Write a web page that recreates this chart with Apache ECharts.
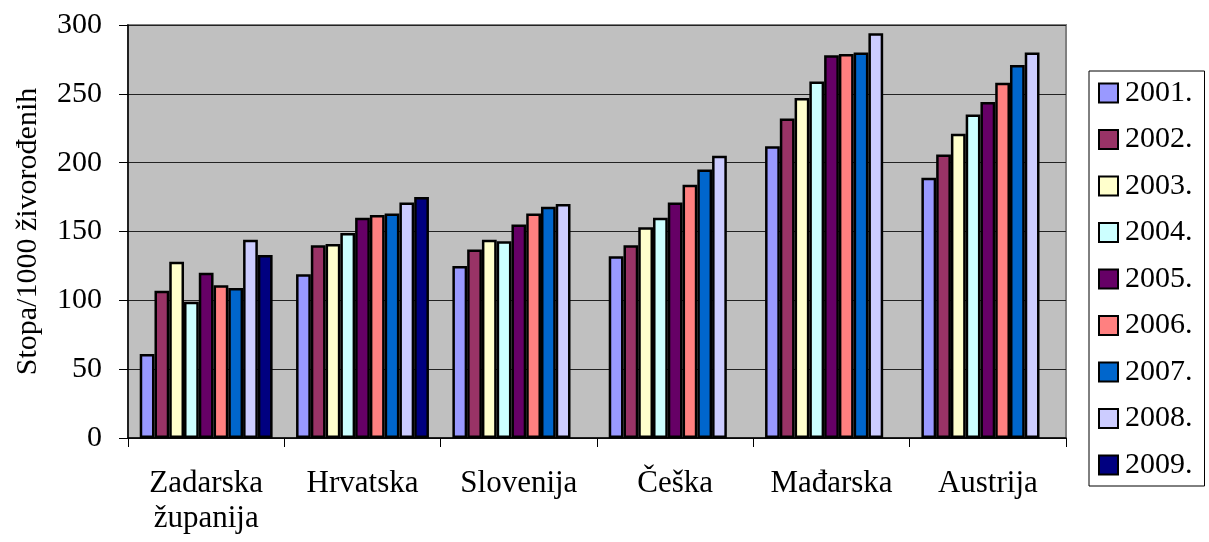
<!DOCTYPE html>
<html>
<head>
<meta charset="utf-8">
<script src="https://cdn.jsdelivr.net/npm/echarts@6/dist/echarts.min.js"></script>
<style>
  html, body { margin: 0; padding: 0; background: #ffffff; }
  #chart { width: 1209px; height: 542px; }
</style>
</head>
<body>
<div id="chart"></div>
<script>
// Countries / regions on the category axis
const categories = ['Zadarska\nžupanija', 'Hrvatska', 'Slovenija', 'Češka', 'Mađarska', 'Austrija'];

// Rate per 1000 live births, one array per year (null = no data)
const y2001 = [61, 119, 125, 132, 212, 189];
const y2002 = [107, 140, 137, 140, 232, 206];
const y2003 = [128, 141, 144, 153, 247, 221];
const y2004 = [99, 149, 143, 160, 259, 235];
const y2005 = [120, 160, 155, 171, 278, 244];
const y2006 = [111, 162, 163, 184, 279, 258];
const y2007 = [109, 163, 168, 195, 280, 271];
const y2008 = [144, 171, 170, 205, 294, 280];
const y2009 = [133, 175, null, null, null, null];

const yearNames = ['2001.', '2002.', '2003.', '2004.', '2005.', '2006.', '2007.', '2008.', '2009.'];
const yearValues = [y2001, y2002, y2003, y2004, y2005, y2006, y2007, y2008, y2009];
const yearColors = ['#9999FF', '#993366', '#FFFFCC', '#CCFFFF', '#660066', '#FF8080', '#0066CC', '#CCCCFF', '#000080'];

const yTicks = { min: 0, max: 300, interval: 50 };

const FONT = '"Liberation Serif", "Times New Roman", serif';

const series = yearNames.map((name, i) => ({
  name: name,
  type: 'bar',
  data: yearValues[i],
  barGap: '0%',
  barCategoryGap: '15%',
  itemStyle: { color: yearColors[i], borderColor: '#000000', borderWidth: 2.5 },
  emphasis: { disabled: true }
}));

const chart = echarts.init(document.getElementById('chart'), null, { renderer: 'canvas' });
chart.setOption({
  animation: false,
  textStyle: { fontFamily: FONT, color: '#000' },
  grid: {
    left: 128, right: 143, top: 25, bottom: 104,
    show: true,
    backgroundColor: '#c0c0c0',
    borderColor: '#808080',
    borderWidth: 2
  },
  legend: {
    orient: 'vertical',
    left: 1089,
    top: 71,
    padding: [7, 12, 6, 9],
    itemWidth: 19,
    itemHeight: 19,
    itemGap: 16.5,
    borderColor: '#000',
    borderWidth: 1,
    backgroundColor: '#fff',
    icon: 'rect',
    textStyle: { fontFamily: FONT, fontSize: 30, color: '#000', lineHeight: 30, padding: [0, 0, 0, 2] },
    data: yearNames
  },
  xAxis: {
    type: 'category',
    data: categories,
    axisLine: { lineStyle: { color: '#000', width: 1.5 } },
    axisTick: { show: true, length: 9, lineStyle: { color: '#000', width: 1 } },
    axisLabel: { fontFamily: FONT, fontSize: 31, color: '#000', margin: 28, lineHeight: 35, interval: 0 },
    splitLine: { show: false }
  },
  yAxis: {
    type: 'value',
    min: yTicks.min,
    max: yTicks.max,
    interval: yTicks.interval,
    name: 'Stopa/1000 živorođenih',
    nameLocation: 'middle',
    nameGap: 85,
    nameTextStyle: { fontFamily: FONT, fontSize: 30, color: '#000' },
    axisLine: { show: true, lineStyle: { color: '#000', width: 1.5 } },
    axisTick: { show: true, length: 9, lineStyle: { color: '#000', width: 1 } },
    axisLabel: { fontFamily: FONT, fontSize: 30, color: '#000', margin: 26 },
    splitLine: { show: true, lineStyle: { color: '#222', width: 1 } }
  },
  series: series
});
</script>
</body>
</html>
